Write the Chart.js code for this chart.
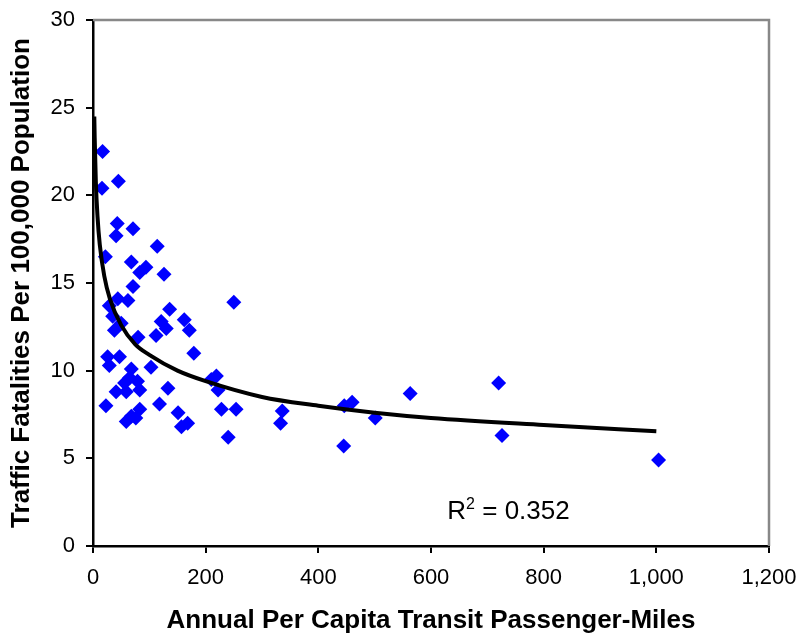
<!DOCTYPE html>
<html>
<head>
<meta charset="utf-8">
<title>Transit vs Traffic Fatalities</title>
<script src="https://cdn.jsdelivr.net/npm/chart.js@4.4.1/dist/chart.umd.min.js"></script>
<style>
  html, body { margin: 0; padding: 0; background: #fff; }
  #wrap { width: 800px; height: 635px; }
</style>
</head>
<body>
<div id="wrap"><canvas id="chart" width="800" height="635"></canvas></div>
<script>
// Annual per capita transit passenger-miles (x) and traffic fatalities per 100,000 (y)
const transitMiles = [
    17, 16, 45, 43, 71, 41, 114, 22, 68, 94,
    83, 126, 71, 44, 62, 29, 250, 136, 35, 121,
    162, 50, 130, 171, 38, 112, 80, 179, 26, 47,
    29, 103, 68, 219, 210, 65, 79, 41, 59, 83,
    133, 222, 23, 118, 228, 254, 83, 59, 76, 151,
    168, 157, 240, 336, 333, 446, 460, 563, 501, 720,
    445, 726, 1004, 68, 56
];
const fatalities = [
    22.5, 20.4, 20.8, 18.4, 18.1, 17.7, 17.1, 16.5, 16.2, 15.9,
    15.6, 15.5, 14.8, 14.1, 14.0, 13.7, 13.9, 13.5, 13.1, 12.8,
    12.9, 12.7, 12.4, 12.3, 12.3, 12.0, 11.9, 11.0, 10.8, 10.8,
    10.3, 10.2, 10.1, 9.7, 9.5, 9.6, 9.4, 8.8, 8.8, 8.9,
    9.0, 8.9, 8.0, 8.1, 7.8, 7.8, 7.8, 7.1, 7.3, 7.6,
    7.0, 6.8, 6.2, 7.7, 7.0, 8.0, 8.2, 8.7, 7.3, 9.3,
    5.7, 6.3, 4.9, 7.4, 9.3
];

// Trend line (power fit)
const trendX = [2.3, 3, 5, 8, 12, 20, 30, 50, 75, 100, 150, 200, 300, 400, 500, 600, 800, 1000];
const trendY = [24.5, 23.3, 20.8, 18.8, 17.2, 15.4, 14.1, 12.6, 11.5, 10.9, 10.0, 9.4, 8.5, 8.0, 7.6, 7.3, 6.9, 6.55];

const xTicks = [0, 200, 400, 600, 800, 1000, 1200];
const yTicks = [0, 5, 10, 15, 20, 25, 30];

const r2Text = '0.352';
const r2Pos = { x: 629, y: 1.55 };

const pointData = transitMiles.map((v, i) => ({ x: v, y: fatalities[i] }));
const trendData = trendX.map((v, i) => ({ x: v, y: trendY[i] }));

// frame on top/right + R² label
const extras = {
    id: 'extras',
    afterDraw(chart) {
        const ctx = chart.ctx;
        const a = chart.chartArea;
        ctx.save();
        ctx.strokeStyle = '#888888';
        ctx.lineWidth = 2.5;
        ctx.beginPath();
        ctx.moveTo(a.left, a.top);
        ctx.lineTo(a.right, a.top);
        ctx.lineTo(a.right, a.bottom);
        ctx.stroke();

        const px = chart.scales.x.getPixelForValue(r2Pos.x);
        const py = chart.scales.y.getPixelForValue(r2Pos.y);
        ctx.fillStyle = '#000';
        ctx.textBaseline = 'alphabetic';
        ctx.textAlign = 'left';
        ctx.font = '26px "Liberation Sans", Arial, sans-serif';
        ctx.fillText('R', px, py);
        const rw = ctx.measureText('R').width;
        ctx.font = '16px "Liberation Sans", Arial, sans-serif';
        ctx.fillText('2', px + rw, py - 10);
        const sw = ctx.measureText('2').width;
        ctx.font = '26px "Liberation Sans", Arial, sans-serif';
        ctx.fillText(' = ' + r2Text, px + rw + sw, py);
        ctx.restore();
    }
};

const ctx = document.getElementById('chart').getContext('2d');
const chart = new Chart(ctx, {
    type: 'scatter',
    data: {
        datasets: [{
            label: 'States',
            data: pointData,
            pointStyle: 'rectRot',
            pointRadius: 7.5,
            pointBackgroundColor: '#0000FF',
            pointBorderWidth: 0,
            borderColor: '#0000FF',
            order: 2
        }, {
            label: 'Trend',
            type: 'line',
            data: trendData,
            borderColor: '#000000',
            borderWidth: 4,
            pointRadius: 0,
            fill: false,
            cubicInterpolationMode: 'monotone',
            order: 1
        }]
    },
    options: {
        responsive: false,
        animation: false,
        layout: { padding: { top: 20, right: 31, left: 0, bottom: 0 } },
        plugins: {
            legend: { display: false },
            tooltip: { enabled: false }
        },
        scales: {
            x: {
                type: 'linear',
                min: 0,
                max: 1200,
                afterBuildTicks: (s) => { s.ticks = xTicks.map(v => ({ value: v })); },
                afterFit: (s) => { s.height = 89; s.paddingLeft = 0; s.paddingRight = 0; },
                border: { color: '#000', width: 2.5 },
                grid: { drawOnChartArea: false, drawTicks: true, tickLength: 7, color: '#000', lineWidth: 2 },
                ticks: {
                    padding: 12,
                    color: '#000',
                    font: { family: '"Liberation Sans", Arial, sans-serif', size: 22 },
                    callback: (v) => v.toLocaleString('en-US')
                },
                title: {
                    display: true,
                    text: 'Annual Per Capita Transit Passenger-Miles',
                    color: '#000',
                    padding: 0,
                    font: { family: '"Liberation Sans", Arial, sans-serif', size: 26, weight: 'bold', lineHeight: 1.1 }
                }
            },
            y: {
                type: 'linear',
                min: 0,
                max: 30,
                afterBuildTicks: (s) => { s.ticks = yTicks.map(v => ({ value: v })); },
                afterFit: (s) => { s.width = 93; s.paddingTop = 0; s.paddingBottom = 0; },
                border: { color: '#000', width: 2.5 },
                grid: { drawOnChartArea: false, drawTicks: true, tickLength: 7, color: '#000', lineWidth: 2 },
                ticks: {
                    padding: 11,
                    color: '#000',
                    font: { family: '"Liberation Sans", Arial, sans-serif', size: 22 }
                },
                title: {
                    display: true,
                    text: 'Traffic Fatalities Per 100,000 Population',
                    color: '#000',
                    padding: { top: 6, bottom: 0 },
                    font: { family: '"Liberation Sans", Arial, sans-serif', size: 26, weight: 'bold', lineHeight: 1.2 }
                }
            }
        }
    },
    plugins: [extras]
});
</script>
</body>
</html>
